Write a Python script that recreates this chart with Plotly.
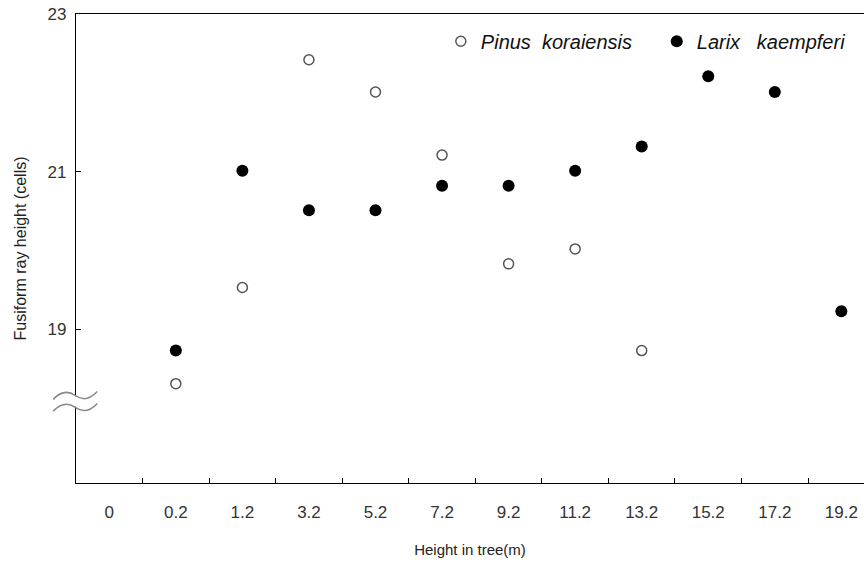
import plotly.graph_objects as go

categories = ["0", "0.2", "1.2", "3.2", "5.2", "7.2", "9.2", "11.2", "13.2", "15.2", "17.2", "19.2"]
pinus_x = ["0.2", "1.2", "3.2", "5.2", "7.2", "9.2", "11.2", "13.2"]
pinus_y = [18.31, 19.53, 22.42, 22.01, 21.21, 19.83, 20.02, 18.73]
larix_x = ["0.2", "1.2", "3.2", "5.2", "7.2", "9.2", "11.2", "13.2", "15.2", "17.2", "19.2"]
larix_y = [18.73, 21.01, 20.51, 20.51, 20.82, 20.82, 21.01, 21.32, 22.21, 22.01, 19.23]
y_ticks = [19, 21, 23]

FONT = "Liberation Sans, Arial, sans-serif"

fig = go.Figure()
fig.add_trace(go.Scatter(
    x=pinus_x, y=pinus_y, mode="markers", name="Pinus\u00a0\u00a0koraiensis", legend="legend",
    marker=dict(symbol="circle", size=10, color="white", line=dict(color="#555555", width=1.5)),
))
fig.add_trace(go.Scatter(
    x=larix_x, y=larix_y, mode="markers", name="Larix\u00a0\u00a0\u00a0kaempferi", legend="legend2",
    marker=dict(symbol="circle", size=12, color="black", line=dict(color="black", width=0)),
))

# axis break symbol (decoration)
x0, w = -0.029, 0.056
def wave(yc, a=0.05):
    return (f"M {x0},{yc - a} Q {x0 + w/4},{yc + 2*a} {x0 + w/2},{yc} "
            f"Q {x0 + 3*w/4},{yc - 2*a} {x0 + w},{yc + a}")

shapes = [
    dict(type="rect", xref="paper", yref="y", x0=-0.006, x1=0.006, y0=18.02, y1=18.15,
         fillcolor="white", line=dict(width=0), layer="above"),
    dict(type="path", xref="paper", yref="y", path=wave(18.16),
         line=dict(color="#888888", width=1.5), layer="above"),
    dict(type="path", xref="paper", yref="y", path=wave(18.01),
         line=dict(color="#888888", width=1.5), layer="above"),
]

legend_common = dict(orientation="h", yanchor="middle", xanchor="left", y=0.942,
                     font=dict(family=FONT, size=20, color="#111111", style="italic"),
                     itemwidth=30, bgcolor="rgba(0,0,0,0)")

fig.update_layout(
    width=864, height=564,
    margin=dict(l=76, r=0, t=14, b=81, autoexpand=False),
    paper_bgcolor="white", plot_bgcolor="white",
    font=dict(family=FONT, size=15, color="#222222"),
    showlegend=True,
    legend=dict(x=0.463, **legend_common),
    legend2=dict(x=0.737, **legend_common),
    shapes=shapes,
    xaxis=dict(
        type="category", categoryorder="array", categoryarray=categories,
        range=[-0.5, 11.34], tickson="boundaries", ticks="inside", ticklen=5,
        tickcolor="black", showline=True, linecolor="black", linewidth=1.2, mirror=True,
        showgrid=False, zeroline=False, tickfont=dict(size=17, color="#333333"),
        ticklabelstandoff=13, automargin=False,
        title=dict(text="Height in tree(m)", font=dict(size=15, color="#222222"), standoff=23),
    ),
    yaxis=dict(
        range=[17.05, 23], tickvals=y_ticks, ticks="inside", ticklen=5, tickcolor="black",
        showline=True, linecolor="black", linewidth=1.2, showgrid=False, zeroline=False,
        tickfont=dict(size=17, color="#333333"), ticklabelstandoff=5, automargin=False,
        title=dict(text="Fusiform ray height (cells)", font=dict(size=16, color="#222222"), standoff=16),
    ),
)

fig.write_html("out.html", config={"displayModeBar": False},
               post_script="document.body.style.margin='0';")
